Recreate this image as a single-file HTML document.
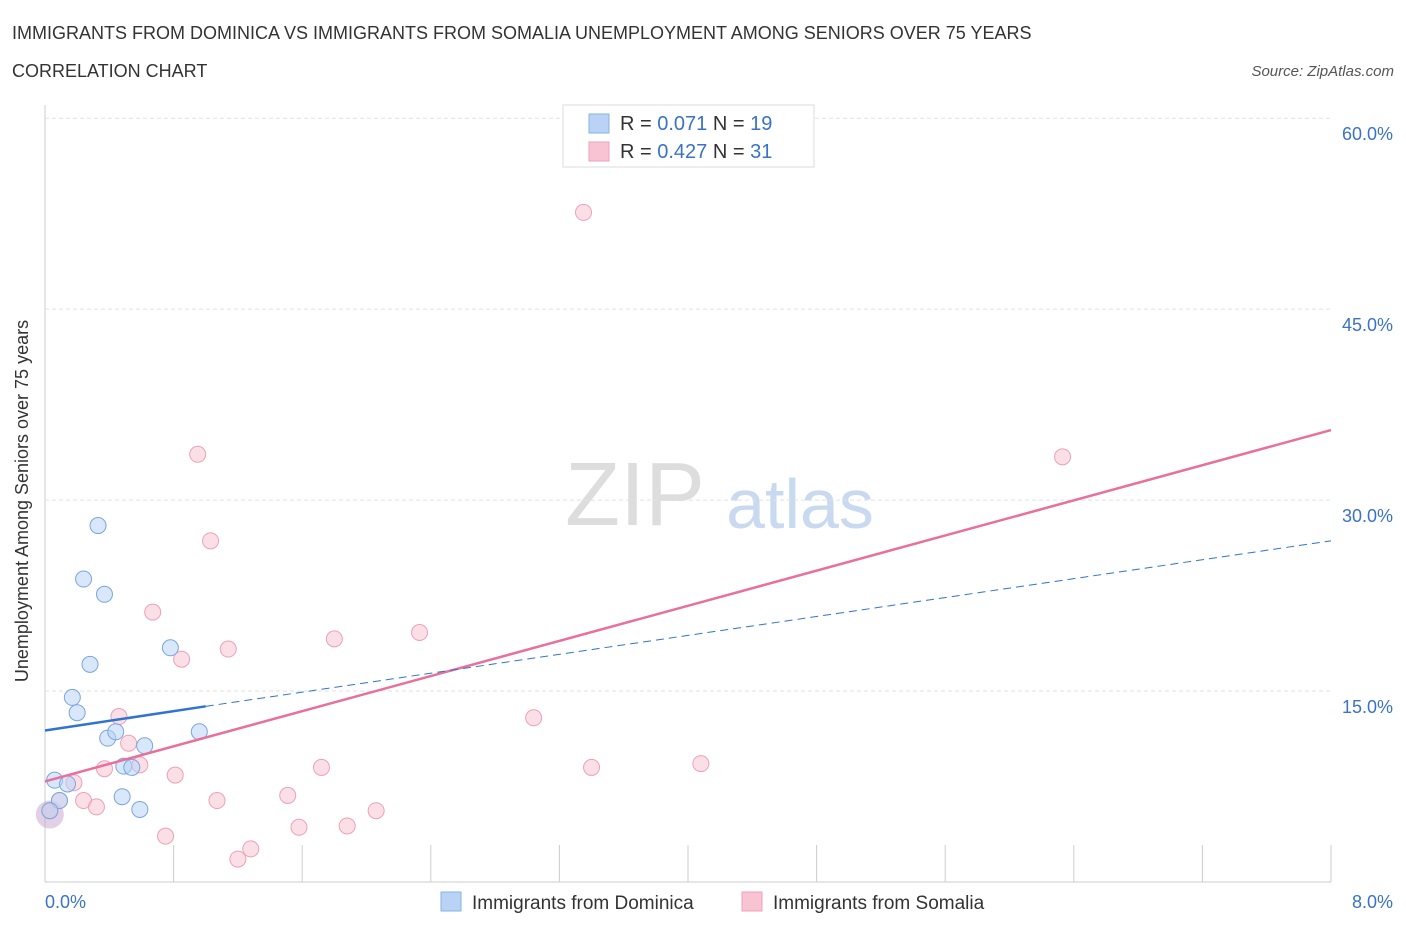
<!DOCTYPE html>
<html><head><meta charset="utf-8"><style>
body{margin:0;background:#fff;font-family:"Liberation Sans",sans-serif}
svg text{font-family:"Liberation Sans",sans-serif}
</style></head><body>
<svg id="c" width="1406" height="930">
<text x="12" y="39" font-size="18" fill="#333">IMMIGRANTS FROM DOMINICA VS IMMIGRANTS FROM SOMALIA UNEMPLOYMENT AMONG SENIORS OVER 75 YEARS</text>
<text x="12" y="77" font-size="18" fill="#333">CORRELATION CHART</text>
<text x="1394" y="76" font-size="15" fill="#555" font-style="italic" text-anchor="end">Source: ZipAtlas.com</text>
<text x="20" y="493" font-size="18" fill="#333" text-anchor="middle" transform="rotate(-90 28 493)">Unemployment Among Seniors over 75 years</text>
<text x="635" y="525" font-size="90" fill="#ddd" font-family="Liberation Serif" text-anchor="middle">ZIP</text>
<text x="800" y="528" font-size="70" fill="#c8d9f0" text-anchor="middle">atlas</text>
<g id="grid"></g><g id="pts"></g><g id="lines"></g>
<g>
<rect x="563" y="105" width="251" height="62" fill="#fff" stroke="#ddd"/>
<rect x="589" y="114" width="20" height="19" fill="#b8d3f5" stroke="#8ab0e0"/>
<rect x="589" y="142" width="20" height="19" fill="#f8c4d4" stroke="#eea0b8"/>
<text x="620" y="130" font-size="20" fill="#333">R = <tspan fill="#3a72c8">0.071</tspan>   N = <tspan fill="#3a72c8">19</tspan></text>
<text x="620" y="158" font-size="20" fill="#333">R = <tspan fill="#3a72c8">0.427</tspan>   N = <tspan fill="#3a72c8">31</tspan></text>
</g>
<g>
<rect x="441" y="892" width="20" height="19" fill="#b8d3f5" stroke="#8ab0e0"/>
<text x="472" y="909" font-size="19" fill="#333">Immigrants from Dominica</text>
<rect x="742" y="892" width="20" height="19" fill="#f8c4d4" stroke="#eea0b8"/>
<text x="773" y="909" font-size="19" fill="#333">Immigrants from Somalia</text>
</g>
</svg>
<script>
const yTicks=[15,30,45,60];
const xTickLabels=["0.0%","8.0%"];
const blueX=[0.06,0.14,0.09,0.03,0.17,0.2,0.28,0.24,0.33,0.37,0.39,0.44,0.49,0.54,0.62,0.48,0.59,0.78,0.96];
const blueY=[8.0,7.7,6.4,5.6,14.5,13.3,17.1,23.8,28.0,22.6,11.3,11.8,9.1,9.0,10.7,6.7,5.7,18.4,11.8];
const pinkX=[3.35,0.95,1.03,0.67,0.85,1.14,1.8,2.33,0.46,0.52,0.59,0.37,0.81,1.07,1.51,1.72,3.04,3.4,4.08,6.33,0.18,0.24,0.32,0.75,1.2,1.28,1.58,1.88,2.06,0.09,0.03];
const pinkY=[52.6,33.6,26.8,21.2,17.5,18.3,19.1,19.6,13.0,10.9,9.2,8.9,8.4,6.4,6.8,9.0,12.9,9.0,9.3,33.4,7.8,6.4,5.9,3.6,1.8,2.6,4.3,4.4,5.6,6.4,5.6];
const blueTrend=[[0,11.9],[1.0,13.8],[8.0,26.8]];
const pinkTrend=[[0,7.9],[8.0,35.5]];
const X=v=>45+v*160.75, Y=v=>882-v*12.73;
const NS="http://www.w3.org/2000/svg";
function mk(t,a,p){const e=document.createElementNS(NS,t);for(const k in a)e.setAttribute(k,a[k]);p.appendChild(e);return e;}
const g=document.getElementById('grid');
mk('line',{x1:45,y1:105,x2:45,y2:882,stroke:'#ccc'},g);
mk('line',{x1:45,y1:882,x2:1331,y2:882,stroke:'#ccc'},g);
for(let i=0;i<=10;i++){const l=mk('line',{x1:X(i*0.8),y1:845,x2:X(i*0.8),y2:882,stroke:'#ccc'},g);

}
yTicks.forEach(t=>{const l=mk('line',{x1:45,y1:Y(t),x2:1331,y2:Y(t),stroke:'#e2e2e2','stroke-dasharray':'4 3'},g);


const tx=mk('text',{x:1393,y:Y(t)+22,'font-size':18,fill:'#3a72c8','text-anchor':'end'},g);tx.textContent=t.toFixed(1)+'%';

});
const a=mk('text',{x:45,y:908,'font-size':18,fill:'#3a72c8'},g);a.textContent=xTickLabels[0];


const b=mk('text',{x:1393,y:908,'font-size':18,fill:'#3a72c8','text-anchor':'end'},g);b.textContent=xTickLabels[1];


const p=document.getElementById('pts');
const big=mk('circle',{cx:X(0.03),cy:Y(5.3),r:14,fill:'rgba(200,170,210,0.55)'},p);


pinkX.forEach((x,i)=>{const c=mk('circle',{cx:X(x),cy:Y(pinkY[i]),r:8,fill:'rgba(248,196,212,0.55)',stroke:'#eea0b8'},p);

});
blueX.forEach((x,i)=>{const c=mk('circle',{cx:X(x),cy:Y(blueY[i]),r:8,fill:'rgba(184,211,245,0.55)',stroke:'#7aa6dc'},p);

});
const L=document.getElementById('lines');
const pl=mk('line',{x1:X(pinkTrend[0][0]),y1:Y(pinkTrend[0][1]),x2:X(pinkTrend[1][0]),y2:Y(pinkTrend[1][1]),stroke:'#e8709a','stroke-width':2.5},L);


const bl=mk('line',{x1:X(blueTrend[0][0]),y1:Y(blueTrend[0][1]),x2:X(blueTrend[1][0]),y2:Y(blueTrend[1][1]),stroke:'#2f74d0','stroke-width':2.5},L);


const bd=mk('line',{x1:X(blueTrend[1][0]),y1:Y(blueTrend[1][1]),x2:X(blueTrend[2][0]),y2:Y(blueTrend[2][1]),stroke:'#2f74d0','stroke-width':1,'stroke-dasharray':'8 5'},L);


</script>
</body></html>
